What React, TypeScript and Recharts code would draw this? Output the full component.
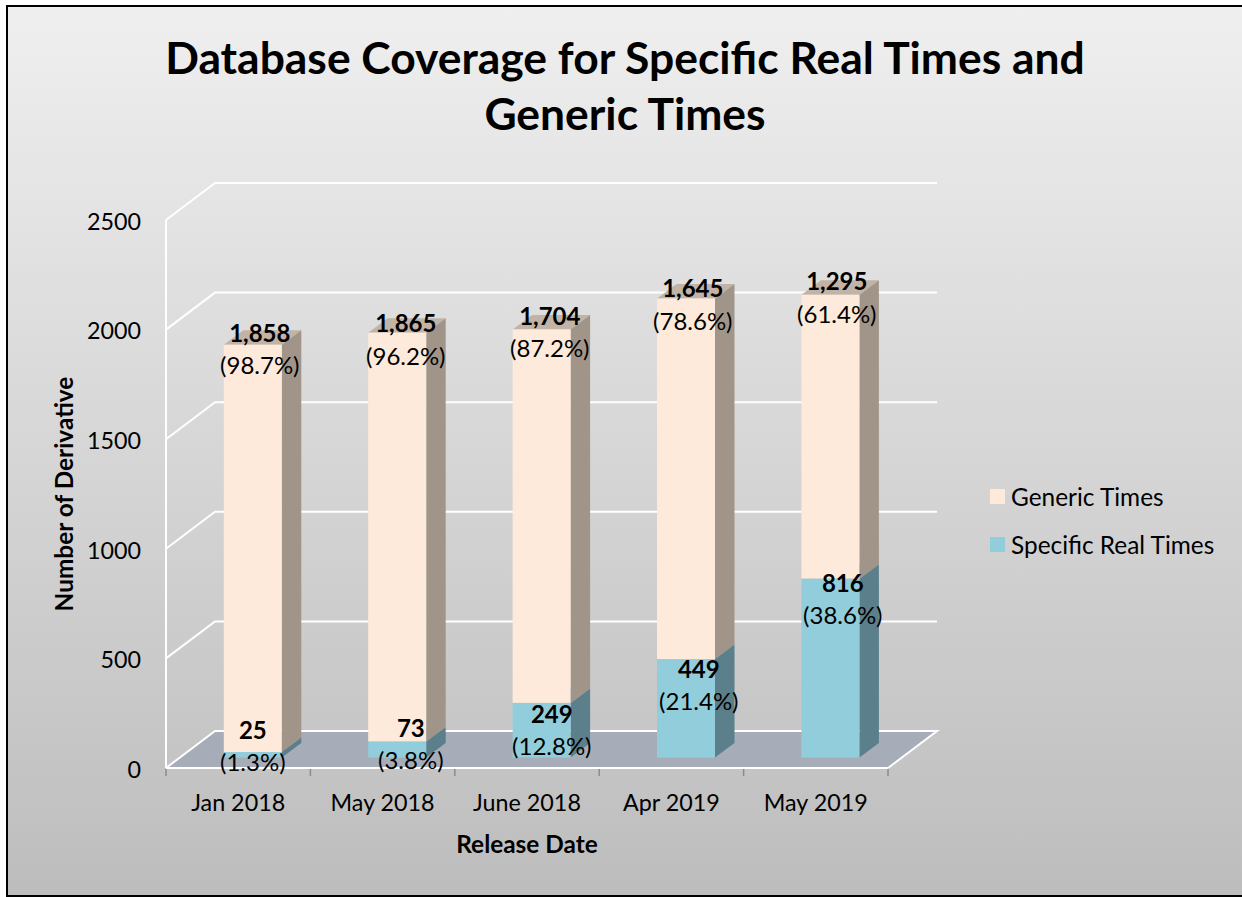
import { Bar, BarChart, CartesianGrid, LabelList, Legend, XAxis, YAxis } from "recharts";

const releaseDates = ["Jan 2018", "May 2018", "June 2018", "Apr 2019", "May 2019"];
const specificRealTimes = [25, 73, 249, 449, 816];
const genericTimes = [1858, 1865, 1704, 1645, 1295];
const specificShare = ["(1.3%)", "(3.8%)", "(12.8%)", "(21.4%)", "(38.6%)"];
const genericShare = ["(98.7%)", "(96.2%)", "(87.2%)", "(78.6%)", "(61.4%)"];
const yTicks = [0, 500, 1000, 1500, 2000, 2500];

const rows = releaseDates.map((date, i) => ({
  date,
  specific: specificRealTimes[i],
  generic: genericTimes[i],
}));

const FONT = "Lato, 'Open Sans', sans-serif";
const PLOT = { left: 166, right: 888, top: 220, bottom: 768 };
const BAND = (PLOT.right - PLOT.left) / releaseDates.length;

// fake 3D: wall depth, bar depth, and where the bars sit on the floor
const WALL_DX = 49;
const WALL_DY = 37;
const BAR_DX = 19.5;
const BAR_DY = 14.5;
const BAR_SHIFT_X = 14.8;
const BAR_SHIFT_Y = -10.5;

// data labels were dragged by hand in the original, so each one has its own nudge
const genericNudge = [[7, -11.5], [8.6, -8.6], [8.2, -13], [6.8, -9.4], [6.4, -12.7]];
const specificNudge = [[0, -21.5], [13.6, -13], [10.2, 11.6], [12.8, 10.4], [12.4, 4.9]];

function Bar3D({ x, y, width, height, front, side, top }: any) {
  const l = x + BAR_SHIFT_X;
  const r = l + width;
  const t = y + BAR_SHIFT_Y;
  const b = t + height;
  return (
    <g>
      <polygon points={`${l},${t} ${r},${t} ${r + BAR_DX},${t - BAR_DY} ${l + BAR_DX},${t - BAR_DY}`} fill={top} />
      <polygon points={`${r},${t} ${r + BAR_DX},${t - BAR_DY} ${r + BAR_DX},${b - BAR_DY} ${r},${b}`} fill={side} />
      <rect x={l} y={t} width={width} height={height} fill={front} />
    </g>
  );
}

function BarLabel({ x, y, width, value, index, nudge, share }: any) {
  const [dx, dy] = nudge[index];
  const cx = x + BAR_SHIFT_X + width / 2 + dx;
  const cy = y + BAR_SHIFT_Y + dy;
  return (
    <g fontFamily={FONT} textAnchor="middle" fill="#000">
      <text x={cx} y={cy} dy="0.35em" fontSize={24} fontWeight={700}>
        {Number(value).toLocaleString("en-US")}
      </text>
      <text x={cx} y={cy + 32.5} dy="0.35em" fontSize={24}>
        {share[index]}
      </text>
    </g>
  );
}

function GridLine({ x1, x2, y1 }: any) {
  const isFloor = Math.abs(y1 - PLOT.bottom) < 1;
  return (
    <g>
      {isFloor && (
        <polygon
          points={`${x1},${y1} ${x1 + WALL_DX},${y1 - WALL_DY} ${x2 + WALL_DX},${y1 - WALL_DY} ${x2},${y1}`}
          fill="#a6adb9"
        />
      )}
      <polyline
        points={`${x1},${y1} ${x1 + WALL_DX},${y1 - WALL_DY} ${x2 + WALL_DX},${y1 - WALL_DY}${isFloor ? ` ${x2},${y1}` : ""}`}
        fill="none"
        stroke="#fff"
        strokeWidth={2}
      />
    </g>
  );
}

function DateTick({ x, y, payload, index }: any) {
  const left = x - BAND / 2;
  return (
    <g>
      <line x1={left} x2={left} y1={y + 1} y2={y + 8} stroke="#8c8c8c" strokeWidth={1.5} />
      {index === releaseDates.length - 1 && (
        <line x1={x + BAND / 2} x2={x + BAND / 2} y1={y + 1} y2={y + 8} stroke="#8c8c8c" strokeWidth={1.5} />
      )}
      <text x={x} y={y + 35} dy="0.35em" textAnchor="middle" fontFamily={FONT} fontSize={23.3} fill="#000">
        {payload.value}
      </text>
    </g>
  );
}

function LegendBox({ payload }: any) {
  return (
    <div style={{ fontFamily: FONT, fontSize: 24.4, color: "#000" }}>
      {(payload ?? []).map((item: any) => (
        <div key={item.value} style={{ display: "flex", alignItems: "center", height: 48 }}>
          <span style={{ width: 15, height: 15, background: item.color, marginRight: 6 }} />
          {item.value}
        </div>
      ))}
    </div>
  );
}

export default function App() {
  return (
    <div style={{ position: "absolute", left: 0, top: 0, width: 1242, height: 897, overflow: "hidden", background: "#fff" }}>
      <div
        style={{
          position: "absolute",
          left: 6,
          top: 5,
          width: 1240,
          height: 888,
          border: "2px solid #000",
          background: "linear-gradient(#efefef, #bdbdbd)",
        }}
      />
      <div
        style={{
          position: "absolute",
          left: 0,
          top: 29,
          width: 1250,
          textAlign: "center",
          fontFamily: FONT,
          fontWeight: 700,
          fontSize: 44.4,
          lineHeight: "56px",
          color: "#000",
        }}
      >
        Database Coverage for Specific Real Times and
        <br />
        Generic Times
      </div>
      <BarChart
        width={1242}
        height={897}
        data={rows}
        margin={{ top: PLOT.top, right: 1242 - PLOT.right, bottom: 44, left: 66 }}
        style={{ position: "absolute", left: 0, top: 0 }}
        barSize={58}
      >
        <CartesianGrid vertical={false} horizontal={(props: any) => <GridLine key={props.key} {...props} />} />
        <XAxis
          dataKey="date"
          height={85}
          tickLine={false}
          axisLine={{ stroke: "#fff", strokeWidth: 2 }}
          tick={(props: any) => <DateTick {...props} y={props.y - 8} />}
          interval={0}
          label={{
            value: "Release Date",
            position: "insideBottom",
            offset: 0,
            style: { fontFamily: FONT, fontSize: 24.4, fontWeight: 700, fill: "#000" },
          }}
        />
        <YAxis
          width={100}
          domain={[0, 2500]}
          ticks={yTicks}
          tickSize={0}
          tickMargin={25}
          tickLine={false}
          axisLine={{ stroke: "#fff", strokeWidth: 2 }}
          tick={{ fontFamily: FONT, fontSize: 23.3, fill: "#000", dy: 1.5 }}
          label={{
            value: "Number of Derivative",
            angle: -90,
            position: "center",
            dx: -52,
            style: { fontFamily: FONT, fontSize: 24.4, fontWeight: 700, fill: "#000" },
          }}
        />
        <Bar
          dataKey="specific"
          name="Specific Real Times"
          stackId="a"
          fill="#92cddc"
          isAnimationActive={false}
          shape={(props: any) => <Bar3D {...props} front="#92cddc" side="#5b7f8b" top="#73a3af" />}
        >
          <LabelList dataKey="specific" content={(props: any) => <BarLabel {...props} nudge={specificNudge} share={specificShare} />} />
        </Bar>
        <Bar
          dataKey="generic"
          name="Generic Times"
          stackId="a"
          fill="#fdeada"
          isAnimationActive={false}
          shape={(props: any) => <Bar3D {...props} front="#fdeada" side="#a1958a" top="#c1b3a6" />}
        >
          <LabelList dataKey="generic" content={(props: any) => <BarLabel {...props} nudge={genericNudge} share={genericShare} />} />
        </Bar>
        <Legend
          layout="horizontal"
          verticalAlign="middle"
          content={(props: any) => <LegendBox payload={[...(props.payload ?? [])].sort((a: any, b: any) => (a.value < b.value ? -1 : 1))} />}
          wrapperStyle={{ left: 990, top: 472, width: 250 }}
        />
      </BarChart>
    </div>
  );
}
